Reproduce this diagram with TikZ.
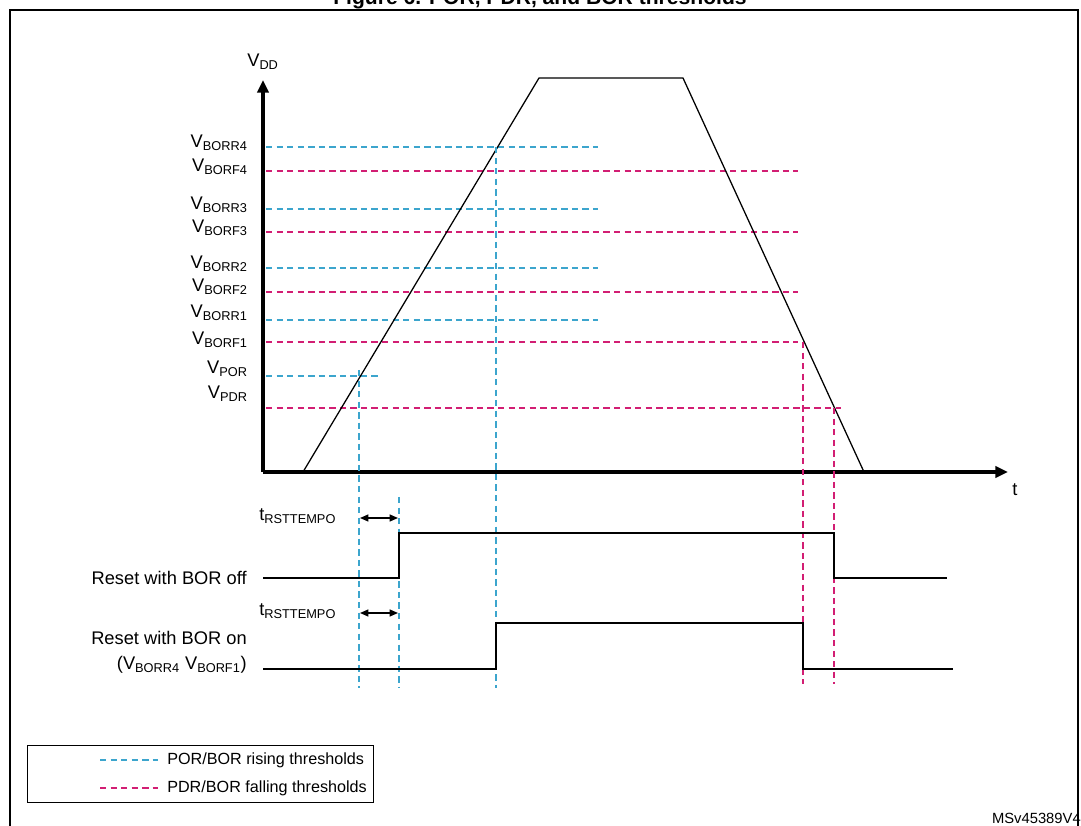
\documentclass[tikz,border=0pt]{standalone}
\usepackage{fontspec}
\setmainfont{Liberation Sans}
\usetikzlibrary{arrows.meta,positioning}
\definecolor{risecol}{RGB}{60,165,205}
\definecolor{fallcol}{RGB}{210,30,115}
\tikzset{axis_style/.style={line width=2.2pt, -{Triangle[length=9pt,width=8pt]}},
  rise_style/.style={risecol, dash pattern=on 4.5pt off 3pt, line width=1pt},
  fall_style/.style={fallcol, dash pattern=on 4.5pt off 3pt, line width=1pt},
  wave_style/.style={line width=0.9pt},
  lbl_style/.style={font=\fontsize{13}{15}\selectfont, inner sep=0pt},
  tmp_style/.style={line width=1pt, {Triangle[length=6pt,width=5pt]}-{Triangle[length=6pt,width=5pt]}}}
\begin{document}
\begin{tikzpicture}[x=0.025cm, y=-0.025cm]
    \useasboundingbox (0,0) rectangle (1081,826);
    \node[font=\bfseries\fontsize{15}{17}\selectfont, anchor=base] (title) at (540,5) {Figure 6. POR, PDR, and BOR thresholds};
    \draw[line width=1pt] (10,830) -- (10,10) -- (1078,10) -- (1078,830);

    % axes
    \coordinate (o) at (263,472);
    \coordinate (ytop) at (263,80);
    \coordinate (xend) at (1008,472);
    \draw[axis_style] (o) -- (ytop);
    \draw[axis_style] (o) -- (xend);
    \node[lbl_style, anchor=south] (vdd) at (263,70) {V\textsubscript{DD}};
    \node[lbl_style, anchor=west] (t) at (1012,490) {t};

    % thresholds
    \foreach \nm/\yy/\xe/\st/\ly in {BORR4/147/598/rise/143, BORF4/171/798/fall/167,
        BORR3/209/598/rise/205, BORF3/232/798/fall/228, BORR2/268/598/rise/264,
        BORF2/292/798/fall/287, BORR1/320/598/rise/313, BORF1/342/798/fall/340,
        POR/376/380/rise/369, PDR/408/841/fall/394}{
      \coordinate (s\nm) at (266,\yy);
      \coordinate (e\nm) at (\xe,\yy);
      \draw[\st_style] (s\nm) -- (e\nm);
      \node[lbl_style, anchor=east] (l\nm) at (248,\ly) {V\textsubscript{\nm}};
    }

    % supply ramp
    \coordinate (r0) at (303,472);
    \coordinate (r1) at (539,78);
    \coordinate (r2) at (683,78);
    \coordinate (r3) at (864,472);
    \draw[line width=0.9pt] (r0) -- (r1) -- (r2) -- (r3);

    % markers
    \draw[rise_style] (359,370) -- (359,688);
    \draw[rise_style] (399,497) -- (399,688);
    \draw[rise_style] (496,147) -- (496,688);
    \draw[fall_style] (803,342) -- (803,684);
    \draw[fall_style] (834,408) -- (834,684);

    % reset waveforms
    \coordinate (a0) at (263,578);
    \coordinate (a1) at (399,578);
    \coordinate (a2) at (399,533);
    \coordinate (a3) at (834,533);
    \coordinate (a4) at (834,578);
    \coordinate (a5) at (947,578);
    \draw[wave_style] (a0) -- (a1) -- (a2) -- (a3) -- (a4) -- (a5);
    \coordinate (b0) at (263,669);
    \coordinate (b1) at (496,669);
    \coordinate (b2) at (496,623);
    \coordinate (b3) at (803,623);
    \coordinate (b4) at (803,669);
    \coordinate (b5) at (953,669);
    \draw[wave_style] (b0) -- (b1) -- (b2) -- (b3) -- (b4) -- (b5);

    \coordinate (ta) at (360,518);
    \coordinate (tb) at (398,518);
    \draw[tmp_style] (ta) -- (tb);
    \node[lbl_style, anchor=west] (tr1) at (259,516) {t\textsubscript{RSTTEMPO}};
    \coordinate (tc) at (360,613);
    \coordinate (td) at (398,613);
    \draw[tmp_style] (tc) -- (td);
    \node[lbl_style, anchor=west] (tr2) at (259,611) {t\textsubscript{RSTTEMPO}};

    \node[lbl_style, anchor=east] (off) at (247,578) {Reset with BOR off};
    \node[lbl_style, anchor=east] (on) at (247,638) {Reset with BOR on};
    \node[lbl_style, anchor=east] (onv) at (247,665) {(V\textsubscript{BORR4} V\textsubscript{BORF1})};

    % legend
    \coordinate (lg0) at (27,745);
    \coordinate (lg1) at (373,802);
    \draw[line width=0.7pt] (lg0) rectangle (lg1);
    \coordinate (la) at (100,760);
    \coordinate (lb) at (158,760);
    \draw[rise_style] (la) -- (lb);
    \node[font=\fontsize{11.5}{13}\selectfont, anchor=west, inner sep=0pt] (leg1) at (167,760) {POR/BOR rising thresholds};
    \coordinate (lc) at (100,788);
    \coordinate (ld) at (158,788);
    \draw[fall_style] (lc) -- (ld);
    \node[font=\fontsize{11.5}{13}\selectfont, anchor=west, inner sep=0pt] (leg2) at (167,788) {PDR/BOR falling thresholds};

    \node[font=\fontsize{10.5}{12}\selectfont, anchor=east, inner sep=0pt] (ms) at (1081,818) {MSv45389V4};
\end{tikzpicture}
\end{document}
